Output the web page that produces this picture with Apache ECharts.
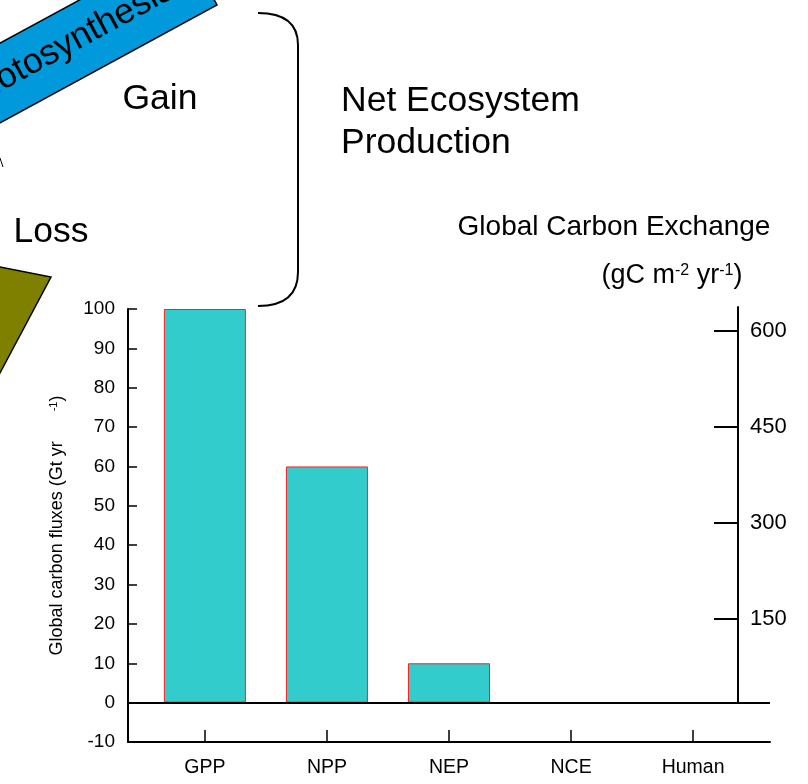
<!DOCTYPE html>
<html>
<head>
<meta charset="utf-8">
<script src="https://cdn.jsdelivr.net/npm/echarts@6/dist/echarts.min.js"></script>
<style>
html,body{margin:0;padding:0;background:#fff;}
#c{width:808px;height:784px;}
</style>
</head>
<body>
<div id="c"></div>
<script>
// ---- data ----
const categories = ['GPP', 'NPP', 'NEP', 'NCE', 'Human'];
const fluxValues = [100, 60, 10, null, null];      // Gt yr-1
const leftMin = -10, leftMax = 100, leftStep = 10;
const rightTickValues = [150, 300, 450, 600];     // gC m-2 yr-1
const rightMin = 20.3, rightMax = 637.5;

const FONT = '"Liberation Sans", Arial, sans-serif';
const chart = echarts.init(document.getElementById('c'), null, {renderer: 'canvas'});

const catIdx = categories.map((c, i) => i);
const barData = fluxValues.map((v, i) => [i, v == null ? '-' : v]);

// banner geometry (decoration)
const ang = 28.5 * Math.PI / 180;
const ux = Math.cos(ang), uy = -Math.sin(ang);
const nx = -Math.sin(ang), ny = -Math.cos(ang);
const B = [217, 5], th = 70, L = 420;
const bannerPts = [
  [B[0] - L * ux, B[1] - L * uy],
  [B[0], B[1]],
  [B[0] + th * nx, B[1] + th * ny],
  [B[0] - L * ux + th * nx, B[1] - L * uy + th * ny]
];
const txtPos = [B[0] + 37 * nx - 31.8 * ux, B[1] + 37 * ny - 31.8 * uy];

const option = {
  backgroundColor: '#fff',
  animation: false,
  grid: [
    {left: 128, top: 309, right: 38, bottom: 42, containLabel: false},
    {left: 737, top: 307, width: 1, height: 395, containLabel: false}
  ],
  xAxis: [
    {
      type: 'value', gridIndex: 0, min: -0.63, max: 4.63,
      axisLine: {show: true, onZero: false, lineStyle: {color: '#000', width: 2}},
      axisTick: {show: true, inside: true, length: 12, customValues: catIdx, lineStyle: {color: '#000', width: 1.5}},
      axisLabel: {show: true, customValues: catIdx, margin: 16, color: '#000', fontFamily: FONT, fontSize: 19.5,
        formatter: v => categories[Math.round(v)]},
      splitLine: {show: false}
    },
    {type: 'value', gridIndex: 1, show: false, min: 0, max: 1}
  ],
  yAxis: [
    {
      type: 'value', gridIndex: 0, min: leftMin, max: leftMax, interval: leftStep,
      axisLine: {show: true, onZero: false, lineStyle: {color: '#000', width: 2}},
      axisTick: {show: true, inside: true, length: 9, lineStyle: {color: '#000', width: 1.5}},
      axisLabel: {color: '#000', fontFamily: FONT, fontSize: 19, margin: 13},
      splitLine: {show: false},
      name: '{a|Global carbon fluxes (Gt yr}{a|      }{s|-1}{a|)}',
      nameLocation: 'middle', nameRotate: 90, nameGap: 62,
      nameTextStyle: {
        color: '#000', fontFamily: FONT, fontSize: 18,
        rich: {
          a: {fontFamily: FONT, fontSize: 18, color: '#000', verticalAlign: 'bottom'},
          s: {fontFamily: FONT, fontSize: 11, color: '#000', verticalAlign: 'top'}
        }
      }
    },
    {
      type: 'value', gridIndex: 1, position: 'right', min: rightMin, max: rightMax,
      axisLine: {show: true, onZero: false, lineStyle: {color: '#000', width: 2}},
      axisTick: {show: true, inside: true, length: 24, customValues: rightTickValues, lineStyle: {color: '#000', width: 2}},
      axisLabel: {show: true, customValues: rightTickValues, color: '#000', fontFamily: FONT, fontSize: 22, margin: 12},
      splitLine: {show: false}
    }
  ],
  series: [
    {
      type: 'bar', xAxisIndex: 0, yAxisIndex: 0,
      data: barData,
      barWidth: 82,
      itemStyle: {color: '#33CCCC', borderColor: '#FF2020', borderWidth: 1},
      markLine: {
        silent: true, symbol: 'none', label: {show: false},
        lineStyle: {color: '#000', width: 2, type: 'solid'},
        data: [{yAxis: 0}]
      }
    }
  ],
  graphic: [
    {type: 'polygon', shape: {points: bannerPts}, style: {fill: '#0099DB', stroke: '#000', lineWidth: 1.5}, z: 10},
    {type: 'text', x: txtPos[0], y: txtPos[1], rotation: ang, z: 11,
      style: {text: 'Photosynthesis', fill: '#000', font: '35.5px ' + FONT, align: 'right', verticalAlign: 'middle'}},
    {type: 'polygon', shape: {points: [[-10, 265], [51, 277], [0, 373], [-10, 392]]},
      style: {fill: '#808000', stroke: '#000', lineWidth: 1.5}, z: 10},
    {type: 'polyline', shape: {points: [[0, 158], [3, 167]]}, style: {stroke: '#000', lineWidth: 1}, z: 10},
    {type: 'bezierCurve', shape: {x1: 258, y1: 13, cpx1: 298, cpy1: 13, x2: 298, y2: 45},
      style: {fill: null, stroke: '#000', lineWidth: 2}, z: 10},
    {type: 'line', shape: {x1: 298, y1: 45, x2: 298, y2: 272},
      style: {stroke: '#000', lineWidth: 2}, z: 10},
    {type: 'bezierCurve', shape: {x1: 298, y1: 272, cpx1: 298, cpy1: 306, x2: 258, y2: 306},
      style: {fill: null, stroke: '#000', lineWidth: 2}, z: 10},
    {type: 'text', x: 160, y: 99, z: 11,
      style: {text: 'Gain', fill: '#000', font: '35.5px ' + FONT, align: 'center', verticalAlign: 'middle'}},
    {type: 'text', x: 51, y: 232, z: 11,
      style: {text: 'Loss', fill: '#000', font: '35.5px ' + FONT, align: 'center', verticalAlign: 'middle'}},
    {type: 'text', x: 341, y: 101, z: 11,
      style: {text: 'Net Ecosystem', fill: '#000', font: '35.5px ' + FONT, align: 'left', verticalAlign: 'middle'}},
    {type: 'text', x: 341, y: 143, z: 11,
      style: {text: 'Production', fill: '#000', font: '35.5px ' + FONT, align: 'left', verticalAlign: 'middle'}},
    {type: 'text', x: 614, y: 227, z: 11,
      style: {text: 'Global Carbon Exchange', fill: '#000', font: '28px ' + FONT, align: 'center', verticalAlign: 'middle'}},
    {type: 'text', x: 672, y: 276, z: 11,
      style: {
        text: '{a|(gC m}{s|-2}{a| yr}{s|-1}{a|)}', align: 'center', verticalAlign: 'middle',
        rich: {
          a: {fontFamily: FONT, fontSize: 27, fill: '#000', verticalAlign: 'bottom'},
          s: {fontFamily: FONT, fontSize: 16, fill: '#000', verticalAlign: 'top'}
        }
      }}
  ]
};
chart.setOption(option);
</script>
</body>
</html>
